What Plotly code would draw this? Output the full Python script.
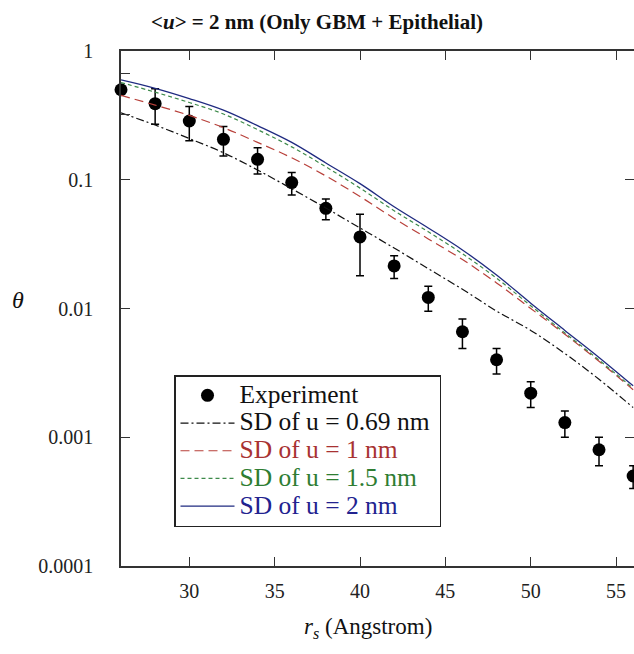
import plotly.graph_objects as go

# Pore radius (Angstrom) and measured sieving coefficients
r_s = [26, 28, 30, 32, 34, 36, 38, 40, 42, 44, 46, 48, 50, 52, 54, 56]
theta_exp = [0.50, 0.39, 0.286, 0.206, 0.144, 0.095, 0.060, 0.036, 0.0214,
             0.0122, 0.0066, 0.0040, 0.0022, 0.0013, 0.0008, 0.0005]
theta_err = [0.0, 0.12, 0.085, 0.053, 0.033, 0.019, 0.011, 0.018, 0.0043,
             0.0027, 0.0017, 0.0009, 0.0005, 0.0003, 0.0002, 0.0001]

# Model curves for different standard deviations of u
theta_sd069 = [0.331, 0.266, 0.209, 0.162, 0.119, 0.0851, 0.0603, 0.0422, 0.0295,
               0.0204, 0.0141, 0.00955, 0.00676, 0.00447, 0.00282, 0.0017]
theta_sd1 = [0.452, 0.380, 0.316, 0.254, 0.195, 0.148, 0.107, 0.0741, 0.0501,
             0.0347, 0.0240, 0.0158, 0.0100, 0.00631, 0.00389, 0.00234]
theta_sd15 = [0.569, 0.479, 0.398, 0.324, 0.245, 0.180, 0.126, 0.0861, 0.0575,
              0.0394, 0.0266, 0.0172, 0.0105, 0.00646, 0.00398, 0.0024]
theta_sd2 = [0.596, 0.513, 0.427, 0.347, 0.263, 0.195, 0.135, 0.0933, 0.0617,
             0.0422, 0.0285, 0.0182, 0.011, 0.00676, 0.00417, 0.00251]

x_ticks = [30, 35, 40, 45, 50, 55]
y_ticks = [0.0001, 0.001, 0.01, 0.1, 1]
y_ticklabels = ["0.0001", "0.001", "0.01", "0.1", "1"]

FONT = "Liberation Serif, Times New Roman, serif"
X_RANGE = [26, 56.05]


def legend_label(text, color):
    # larger glyphs than the legend's row spacing font
    return f"<span style='font-size:25.5px;color:{color}'>{text}</span>&nbsp;"


fig = go.Figure()

fig.add_trace(go.Scatter(
    x=r_s, y=theta_exp, mode="markers",
    name=legend_label("Experiment", "#111111"),
    marker=dict(symbol="circle", size=13, color="black"),
    error_y=dict(type="data", array=theta_err, visible=True,
                 color="black", thickness=1.5, width=4),
    cliponaxis=False,
))

curves = [
    (theta_sd069, "SD of u = 0.69 nm", "#111111", "#111111", "8px,3px,2px,3px", 1.2),
    (theta_sd1, "SD of u = 1 nm", "#b8403a", "#a83232", "9px,5px", 1.2),
    (theta_sd15, "SD of u = 1.5 nm", "#3d8a4a", "#2e7d32", "4px,3px", 1.2),
    (theta_sd2, "SD of u = 2 nm", "#1f2a80", "#22228f", "solid", 1.3),
]
for vals, label, lc, tc, dash, lw in curves:
    fig.add_trace(go.Scatter(
        x=r_s, y=vals, mode="lines", line_shape="spline",
        name=legend_label(label, tc),
        line=dict(color=lc, dash=dash, width=lw),
    ))

# transparent copy on the right-hand axis so its inside ticks get drawn
fig.add_trace(go.Scatter(
    x=r_s, y=theta_exp, yaxis="y2", mode="markers",
    marker=dict(opacity=0, size=1), showlegend=False, hoverinfo="skip",
))

fig.update_layout(
    width=634, height=654,
    margin=dict(l=121, r=0, t=51, b=88),
    paper_bgcolor="white", plot_bgcolor="white",
    font=dict(family=FONT, size=20, color="#222222"),
    title=dict(
        text="<b>&lt;<i>u</i>&gt; = 2 nm (Only GBM + Epithelial)</b>",
        x=0.5, xanchor="center", y=1 - 22 / 654, yanchor="middle",
        font=dict(family=FONT, size=21, color="#111111"),
    ),
    xaxis=dict(
        range=X_RANGE, tickvals=x_ticks, ticks="inside", ticklen=9,
        tickwidth=1.3, tickcolor="#333333",
        showline=True, linecolor="#333333", linewidth=1.5, mirror="ticks",
        showgrid=False, zeroline=False, ticklabelstandoff=6,
        tickfont=dict(family=FONT, size=20, color="#222222"),
    ),
    yaxis=dict(
        type="log", range=[-4, 0],
        tickvals=y_ticks + [0.32, 0.67], ticktext=y_ticklabels + ["", ""],
        ticks="inside", ticklen=9, tickwidth=1.3, tickcolor="#333333",
        showline=True, linecolor="#333333", linewidth=1.5, mirror=False,
        showgrid=False, zeroline=False, ticklabelstandoff=22,
        tickfont=dict(family=FONT, size=20, color="#222222"),
    ),
    yaxis2=dict(
        type="log", range=[-4, 0], overlaying="y", side="right", anchor="x",
        tickvals=y_ticks, showticklabels=False, ticks="inside", ticklen=9,
        tickwidth=1.3, tickcolor="#333333", showline=False, showgrid=False,
        zeroline=False,
    ),
    legend=dict(
        x=(174 - 121) / 513, y=(566 - 375) / 515, xanchor="left", yanchor="top",
        bgcolor="white", bordercolor="#222222", borderwidth=1.5,
        font=dict(family=FONT, size=19, color="#111111"),
        tracegroupgap=0, itemwidth=54,
    ),
    showlegend=True,
)

fig.add_annotation(
    text="<i>θ</i>", xref="paper", yref="paper",
    x=(18 - 121) / 513, y=(566 - 300) / 515, xanchor="center", yanchor="middle",
    showarrow=False, font=dict(family=FONT, size=24, color="#111111"),
)
fig.add_annotation(
    text="<i>r<sub>s</sub></i> (Angstrom)", xref="paper", yref="paper",
    x=(368 - 121) / 513, y=-(628 - 566) / 515, xanchor="center", yanchor="middle",
    showarrow=False, font=dict(family=FONT, size=23, color="#111111"),
)

fig.write_html("out.html")
